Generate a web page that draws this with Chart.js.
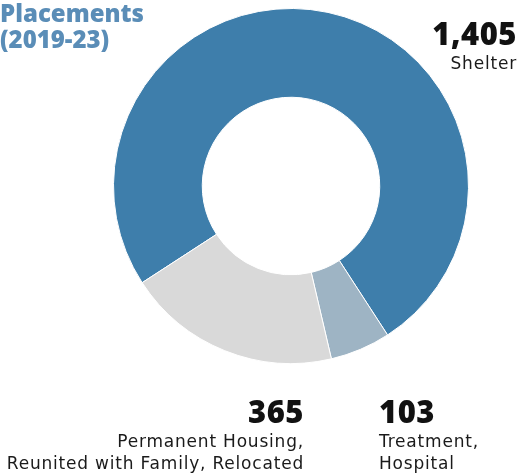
<!DOCTYPE html>
<html>
<head>
<meta charset="utf-8">
<script src="https://cdn.jsdelivr.net/npm/chart.js@4/dist/chart.umd.min.js"></script>
<style>
  body { margin: 0; background: #fff; font-family: "DejaVu Sans", sans-serif; }
  .wrap { position: relative; width: 527px; height: 475px; }
  .lbl { position: absolute; color: #111; }
  .num { font-family: "Open Sans", sans-serif; font-weight: 800; font-size: 31px; line-height: 30px; letter-spacing: 0.5px; }
  .txt { font-size: 17px; line-height: 22px; color: #1a1a1a; letter-spacing: 0.8px; margin-top: 4px; }
  .title { position: absolute; left: 0; top: 0px; color: #5a8db7; font-family: "Open Sans", sans-serif; font-weight: 800; font-size: 24px; line-height: 26px; }
</style>
</head>
<body>
<div class="wrap">
  <canvas id="chart"></canvas>
  <div class="title">Placements<br>(2019-23)</div>
  <div class="lbl" style="right:10px; top:18px; text-align:right;">
    <div class="num">1,405</div>
    <div class="txt">Shelter</div>
  </div>
  <div class="lbl" style="right:223px; top:396px; text-align:right;">
    <div class="num">365</div>
    <div class="txt">Permanent Housing,<br>Reunited with Family, Relocated</div>
  </div>
  <div class="lbl" style="left:379px; top:396px;">
    <div class="num">103</div>
    <div class="txt">Treatment,<br>Hospital</div>
  </div>
</div>
<script>
const categories = ['Shelter', 'Treatment, Hospital', 'Permanent Housing, Reunited with Family, Relocated'];
const placements = [1405, 103, 365];
const colors = ['#3e7eab', '#9eb4c4', '#d9d9d9'];

const ctx = document.getElementById('chart');
new Chart(ctx, {
    type: 'doughnut',
    data: {
        labels: categories,
        datasets: [{
            data: placements,
            backgroundColor: colors,
            borderColor: '#ffffff',
            borderWidth: 1
        }]
    },
    options: {
        responsive: true,
        maintainAspectRatio: false,
        animation: false,
        cutout: '50%',
        rotation: 237,
        layout: { padding: { left: 113, right: 58, top: 8, bottom: 111 } },
        plugins: { legend: { display: false }, tooltip: { enabled: false } }
    }
});
</script>
</body>
</html>
